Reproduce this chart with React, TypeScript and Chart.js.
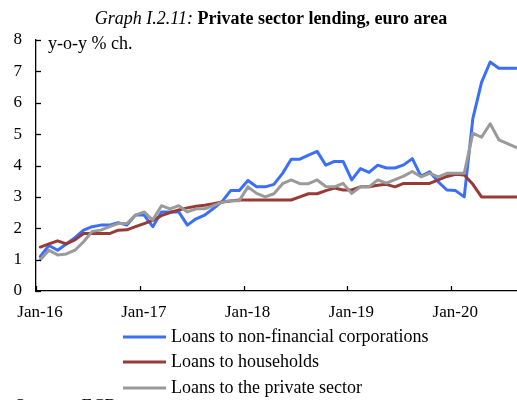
import React, { useEffect, useRef } from "react";
import { Chart, registerables } from "chart.js";

Chart.register(...registerables);

const months = [
  "Jan-16", "Feb-16", "Mar-16", "Apr-16", "May-16", "Jun-16", "Jul-16", "Aug-16", "Sep-16", "Oct-16", "Nov-16", "Dec-16",
  "Jan-17", "Feb-17", "Mar-17", "Apr-17", "May-17", "Jun-17", "Jul-17", "Aug-17", "Sep-17", "Oct-17", "Nov-17", "Dec-17",
  "Jan-18", "Feb-18", "Mar-18", "Apr-18", "May-18", "Jun-18", "Jul-18", "Aug-18", "Sep-18", "Oct-18", "Nov-18", "Dec-18",
  "Jan-19", "Feb-19", "Mar-19", "Apr-19", "May-19", "Jun-19", "Jul-19", "Aug-19", "Sep-19", "Oct-19", "Nov-19", "Dec-19",
  "Jan-20", "Feb-20", "Mar-20", "Apr-20", "May-20", "Jun-20", "Jul-20", "Aug-20",
];

const tickLabels = ["Jan-16", "Jan-17", "Jan-18", "Jan-19", "Jan-20"];
const yTicks = [0, 1, 2, 3, 4, 5, 6, 7, 8];

const nfcLoans = [
  1.1, 1.45, 1.3, 1.5, 1.7, 1.94, 2.05, 2.1, 2.1, 2.18, 2.1, 2.42,
  2.42, 2.05, 2.52, 2.52, 2.52, 2.1, 2.3, 2.42, 2.63, 2.85, 3.2, 3.2,
  3.52, 3.32, 3.32, 3.4, 3.75, 4.2, 4.2, 4.33, 4.45, 4.01, 4.13, 4.13,
  3.54, 3.9, 3.78, 4.01, 3.92, 3.92, 4.02, 4.22, 3.66, 3.8, 3.48, 3.22,
  3.2, 3.0, 5.5, 6.65, 7.3, 7.1, 7.1, 7.1,
];

const householdLoans = [
  1.4, 1.5, 1.6, 1.5, 1.63, 1.83, 1.83, 1.83, 1.83, 1.94, 1.95, 2.05,
  2.15, 2.25, 2.4, 2.5, 2.58, 2.65, 2.7, 2.73, 2.78, 2.84, 2.87, 2.9,
  2.9, 2.9, 2.9, 2.9, 2.9, 2.9, 3.0, 3.1, 3.1, 3.2, 3.28, 3.22,
  3.22, 3.32, 3.32, 3.37, 3.4, 3.32, 3.43, 3.43, 3.43, 3.43, 3.54, 3.65,
  3.72, 3.7, 3.4, 3.0, 3.0, 3.0, 3.0, 3.0,
];

const privateSectorLoans = [
  1.0, 1.3, 1.15, 1.18, 1.3, 1.57, 1.9, 1.94, 2.05, 2.15, 2.15, 2.42,
  2.52, 2.26, 2.72, 2.62, 2.72, 2.52, 2.62, 2.62, 2.72, 2.83, 2.88, 2.88,
  3.32, 3.11, 3.0, 3.1, 3.42, 3.54, 3.42, 3.42, 3.54, 3.33, 3.32, 3.43,
  3.11, 3.32, 3.32, 3.54, 3.44, 3.55, 3.66, 3.81, 3.64, 3.75, 3.64, 3.75,
  3.75, 3.75, 5.03, 4.9, 5.33, 4.82, 4.7, 4.58,
];

const seriesLabels = [
  "Loans to non-financial corporations",
  "Loans to households",
  "Loans to the private sector",
];
const seriesColors = ["#3a6ffb", "#983a36", "#9a9a9a"];

const FONT = '"Liberation Serif", "Times New Roman", serif';

const decoPlugin = {
  id: "deco",
  afterDraw(chart: any) {
    const { ctx, chartArea, scales } = chart;
    const x = scales.x;
    const y = scales.y;
    ctx.save();
    // inward tick marks
    ctx.strokeStyle = "#000";
    ctx.lineWidth = 1.3;
    yTicks.forEach((v) => {
      const py = Math.round(y.getPixelForValue(v)) + 0.5;
      ctx.beginPath();
      ctx.moveTo(chartArea.left, py);
      ctx.lineTo(chartArea.left + 5, py);
      ctx.stroke();
    });
    tickLabels.forEach((l) => {
      const px = Math.round(x.getPixelForValue(months.indexOf(l) - 0.5)) + 0.5;
      ctx.beginPath();
      ctx.moveTo(px, chartArea.bottom);
      ctx.lineTo(px, chartArea.bottom - 5);
      ctx.stroke();
    });

    // title
    ctx.fillStyle = "#000";
    ctx.textBaseline = "alphabetic";
    const part1 = "Graph I.2.11: ";
    const part2 = "Private sector lending, euro area";
    ctx.font = `italic 18px ${FONT}`;
    const w1 = ctx.measureText(part1).width;
    ctx.font = `bold 18px ${FONT}`;
    const w2 = ctx.measureText(part2).width;
    const startX = 271 - (w1 + w2) / 2;
    ctx.font = `italic 18px ${FONT}`;
    ctx.textAlign = "left";
    ctx.fillText(part1, startX, 24);
    ctx.font = `bold 18px ${FONT}`;
    ctx.fillText(part2, startX + w1, 24);

    // unit label
    ctx.font = `18px ${FONT}`;
    ctx.fillText("y-o-y % ch.", 48, 49);

    // legend
    const datasets = chart.data.datasets;
    const rows = [337, 362, 388];
    datasets.forEach((ds: any, i: number) => {
      const ry = rows[i];
      ctx.strokeStyle = ds.borderColor;
      ctx.lineWidth = 3;
      ctx.beginPath();
      ctx.moveTo(123, ry);
      ctx.lineTo(166, ry);
      ctx.stroke();
      ctx.fillStyle = "#000";
      ctx.font = `18px ${FONT}`;
      ctx.textBaseline = "middle";
      ctx.fillText(ds.label, 171, ry);
    });

    // source (cut off at bottom)
    ctx.textBaseline = "top";
    ctx.font = `18px ${FONT}`;
    ctx.fillText("Sources: ECB", 15, 398);
    ctx.restore();
  },
};

export default function App() {
  const canvasRef = useRef<HTMLCanvasElement | null>(null);

  useEffect(() => {
    document.body.style.margin = "0";
    const canvas = canvasRef.current;
    if (!canvas) return;
    const toPoints = (arr: number[]) => arr.map((v, i) => ({ x: i, y: v }));
    const dataArrays = [nfcLoans, householdLoans, privateSectorLoans];
    const orders = [3, 2, 1];
    const chart = new Chart(canvas, {
      type: "line",
      data: {
        datasets: dataArrays.map((arr, i) => ({
          label: seriesLabels[i],
          data: toPoints(arr),
          borderColor: seriesColors[i],
          backgroundColor: seriesColors[i],
          borderWidth: 3,
          pointRadius: 0,
          tension: 0,
          borderJoinStyle: "round",
          borderCapStyle: "round",
          order: orders[i],
        })),
      },
      options: {
        animation: false,
        responsive: false,
        layout: { padding: { top: 40, left: 0, right: 0, bottom: 0 } },
        plugins: {
          legend: { display: false },
          title: { display: false },
          tooltip: { enabled: false },
        },
        scales: {
          x: {
            type: "linear",
            min: -0.5,
            max: 55.1,
            afterBuildTicks: (s: any) => {
              s.ticks = tickLabels.map((l) => ({ value: months.indexOf(l) - 0.5 }));
            },
            afterFit: (s: any) => {
              s.height = 109;
            },
            grid: { display: false, drawTicks: false },
            border: { display: true, color: "#000", width: 1.3 },
            ticks: {
              autoSkip: false,
              maxRotation: 0,
              labelOffset: 4,
              padding: 11,
              color: "#000",
              font: { family: FONT, size: 17 },
              callback: (v: any) => {
                const lbl = tickLabels.find((l) => months.indexOf(l) - 0.5 === v);
                return lbl ?? "";
              },
            },
          },
          y: {
            min: 0,
            max: 8,
            afterBuildTicks: (s: any) => {
              s.ticks = yTicks.map((v) => ({ value: v }));
            },
            afterFit: (s: any) => {
              s.width = 36;
            },
            grid: { display: false, drawTicks: false },
            border: { display: true, color: "#000", width: 1.3 },
            ticks: {
              padding: 14,
              color: "#000",
              font: { family: FONT, size: 17 },
            },
          },
        },
      },
      plugins: [decoPlugin],
    } as any);
    return () => chart.destroy();
  }, []);

  return (
    <div style={{ position: "absolute", left: 0, top: 0, width: 517, height: 400, background: "#fff" }}>
      <canvas ref={canvasRef} width={517} height={400} style={{ display: "block" }} />
    </div>
  );
}
